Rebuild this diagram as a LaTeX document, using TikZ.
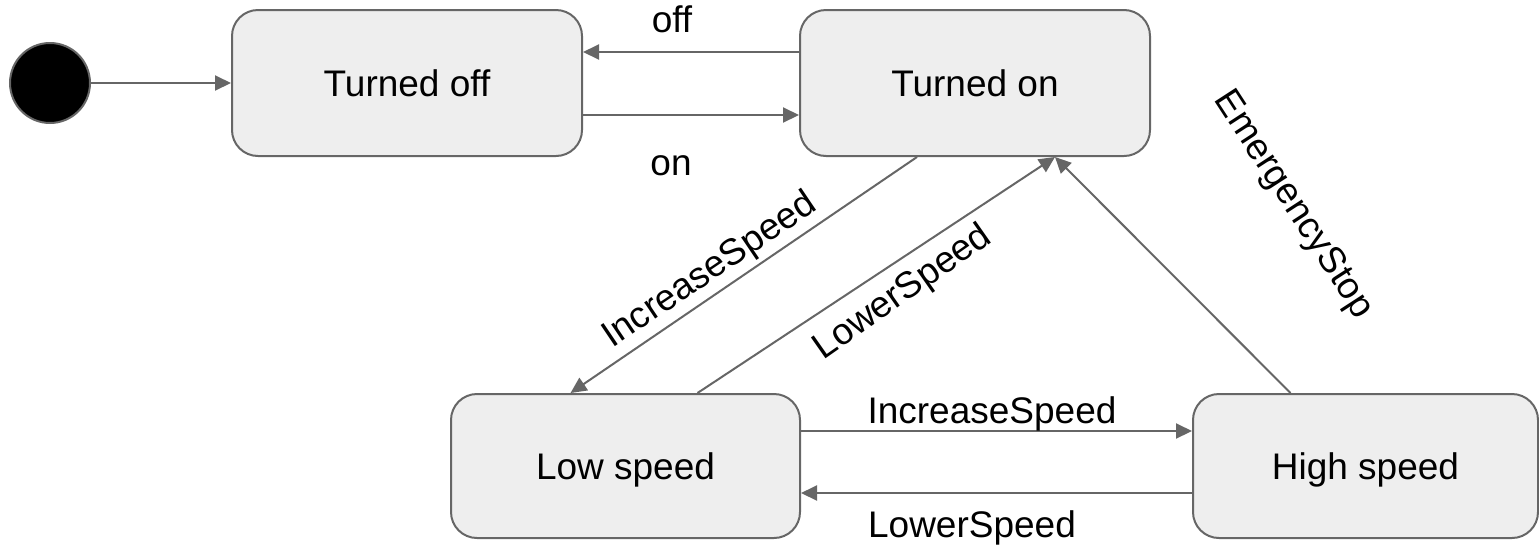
\documentclass[tikz,border=0pt]{standalone}
\usepackage{fontspec}
\setmainfont{Liberation Sans}
\usetikzlibrary{arrows.meta}
\definecolor{edge}{HTML}{666666}
\definecolor{statefill}{HTML}{EEEEEE}
\newcommand\statefont{\fontsize{37}{44}\selectfont}
\begin{document}
\begin{tikzpicture}[x=1pt,y=-1pt,
  state/.style={draw=edge, line width=2pt, fill=statefill, rounded corners=26pt,
    minimum height=146pt, inner sep=0pt, text height=27pt, text depth=0pt, font=\statefont},
  flow/.style={draw=edge, line width=2pt, -{Triangle[length=16pt,width=15pt]}},
  lbl/.style={font=\statefont, inner sep=0pt}]
\useasboundingbox (0,0) rectangle (1539,547);

% states
\node[circle, fill=black, draw=edge, line width=2pt, minimum size=80pt, inner sep=0pt] (init) at (50,83) {};
\node[state, minimum width=350pt] (toff) at (407,83) {Turned off};
\node[state, minimum width=350pt] (ton) at (975,83) {Turned on};
\node[state, minimum width=349pt, minimum height=144pt] (low) at (625.5,466) {Low speed};
\node[state, minimum width=345pt, minimum height=144pt] (high) at (1365.5,466) {High speed};

% transitions
\draw[flow] (init) -- (toff);
\draw[flow] ([yshift=31pt]ton.west) -- ([yshift=31pt]toff.east);
\draw[flow] ([yshift=-32pt]toff.east) -- ([yshift=-32pt]ton.west);
\draw[flow] ([yshift=35pt]low.east) -- ([yshift=35pt]high.west);
\draw[flow] ([yshift=-27pt]high.west) -- ([yshift=-27pt]low.east);
\draw[flow] ([xshift=-58pt]ton.south) -- ([xshift=-55pt]low.north);
\draw[flow] ([xshift=72pt]low.north) -- ([xshift=80pt]ton.south);
\draw[flow] ([xshift=-75pt]high.north) -- ([xshift=80pt]ton.south);

% transition labels
\node[lbl, anchor=base] (loff) at (672,32) {off};
\node[lbl, anchor=base] (lon) at (671,175) {on};
\node[lbl, anchor=base] (lincb) at (992,423) {IncreaseSpeed};
\node[lbl, anchor=base] (llowb) at (972,537) {LowerSpeed};
\node[lbl, rotate=34] (linca) at (710,271) {IncreaseSpeed};
\node[lbl, rotate=35] (llowa) at (903,293) {LowerSpeed};
\node[lbl, rotate=-57] (lstop) at (1293,205) {EmergencyStop};
\end{tikzpicture}
\end{document}
